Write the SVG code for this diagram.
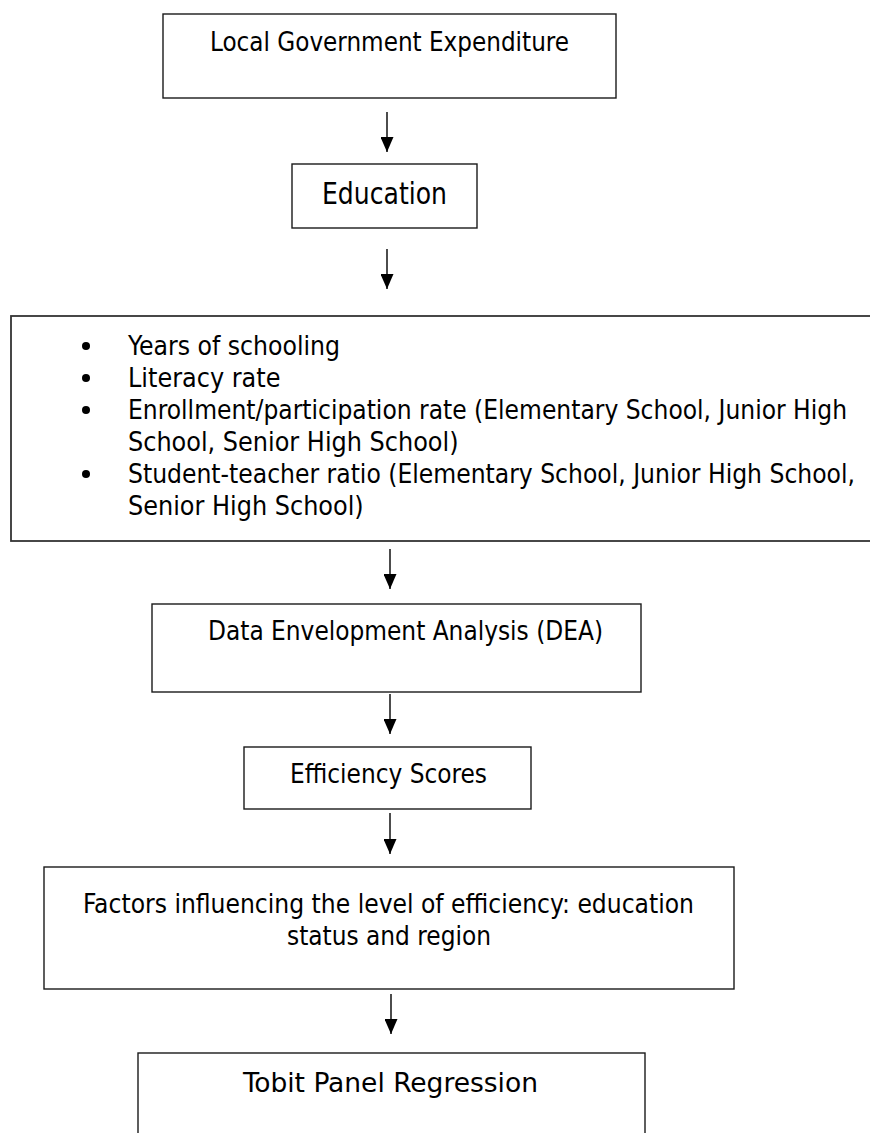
<svg xmlns="http://www.w3.org/2000/svg" width="870" height="1133" viewBox="0 0 870 1133">
<defs>
<style>
.box{fill:#fff;stroke:#1a1a1a;stroke-width:1.4}
.t{font-family:"DejaVu Sans Condensed","DejaVu Sans",sans-serif;font-size:26.67px;fill:#000}
.c{text-anchor:middle}
.conn line{stroke:#000;stroke-width:1.4}
</style>
<marker id="ah" markerWidth="15" markerHeight="13" refX="15" refY="6.5" orient="auto" markerUnits="userSpaceOnUse" viewBox="0 0 15 13">
<path d="M0,0 L15,6.5 L0,13 Z" fill="#000"/>
</marker>
</defs>
<rect width="870" height="1133" fill="#fff"/>
<g id="n1">
<rect class="box" x="163" y="14" width="453" height="84"/>
<text class="t c" x="389.5" y="51" textLength="359" lengthAdjust="spacingAndGlyphs">Local Government Expenditure</text>
</g>
<g id="n2">
<rect class="box" x="292" y="164" width="185" height="64"/>
<text class="t c" x="384.5" y="204" style="font-size:29.33px" textLength="125" lengthAdjust="spacingAndGlyphs">Education</text>
</g>
<g id="n3">
<rect class="box" x="11" y="316" width="880" height="225" style="stroke:#333;stroke-width:1.8"/>
<circle cx="86" cy="346" r="4"/>
<circle cx="86" cy="378" r="4"/>
<circle cx="86" cy="410" r="4"/>
<circle cx="86" cy="474" r="4"/>
<text class="t" x="128" y="355" textLength="212" lengthAdjust="spacingAndGlyphs">Years of schooling</text>
<text class="t" x="128" y="387">Literacy rate</text>
<text class="t" x="128" y="419" textLength="719" lengthAdjust="spacingAndGlyphs">Enrollment/participation rate (Elementary School, Junior High</text>
<text class="t" x="128" y="451">School, Senior High School)</text>
<text class="t" x="128" y="483" textLength="727" lengthAdjust="spacingAndGlyphs">Student-teacher ratio (Elementary School, Junior High School,</text>
<text class="t" x="128" y="515">Senior High School)</text>
</g>
<g id="n4">
<rect class="box" x="152" y="604" width="489" height="88"/>
<text class="t c" x="405.5" y="640" textLength="395" lengthAdjust="spacingAndGlyphs">Data Envelopment Analysis (DEA)</text>
</g>
<g id="n5">
<rect class="box" x="244" y="747" width="287" height="62"/>
<text class="t c" x="388.5" y="783" textLength="197" lengthAdjust="spacingAndGlyphs">Efficiency Scores</text>
</g>
<g id="n6">
<rect class="box" x="44" y="867" width="690" height="122"/>
<text class="t c" x="388.5" y="913" textLength="611" lengthAdjust="spacingAndGlyphs">Factors influencing the level of efficiency: education</text>
<text class="t c" x="389" y="945" textLength="204" lengthAdjust="spacingAndGlyphs">status and region</text>
</g>
<g id="n7">
<rect class="box" x="138" y="1053" width="507" height="100"/>
<text class="t c" x="390.5" y="1092" textLength="295" lengthAdjust="spacingAndGlyphs">Tobit Panel Regression</text>
</g>
<g id="connectors" class="conn">
<line x1="387" y1="112" x2="387" y2="152" marker-end="url(#ah)"/>
<line x1="387" y1="249" x2="387" y2="289" marker-end="url(#ah)"/>
<line x1="390" y1="549" x2="390" y2="589" marker-end="url(#ah)"/>
<line x1="390" y1="694" x2="390" y2="734" marker-end="url(#ah)"/>
<line x1="390" y1="813" x2="390" y2="854" marker-end="url(#ah)"/>
<line x1="391" y1="994" x2="391" y2="1034" marker-end="url(#ah)"/>
</g>
</svg>
